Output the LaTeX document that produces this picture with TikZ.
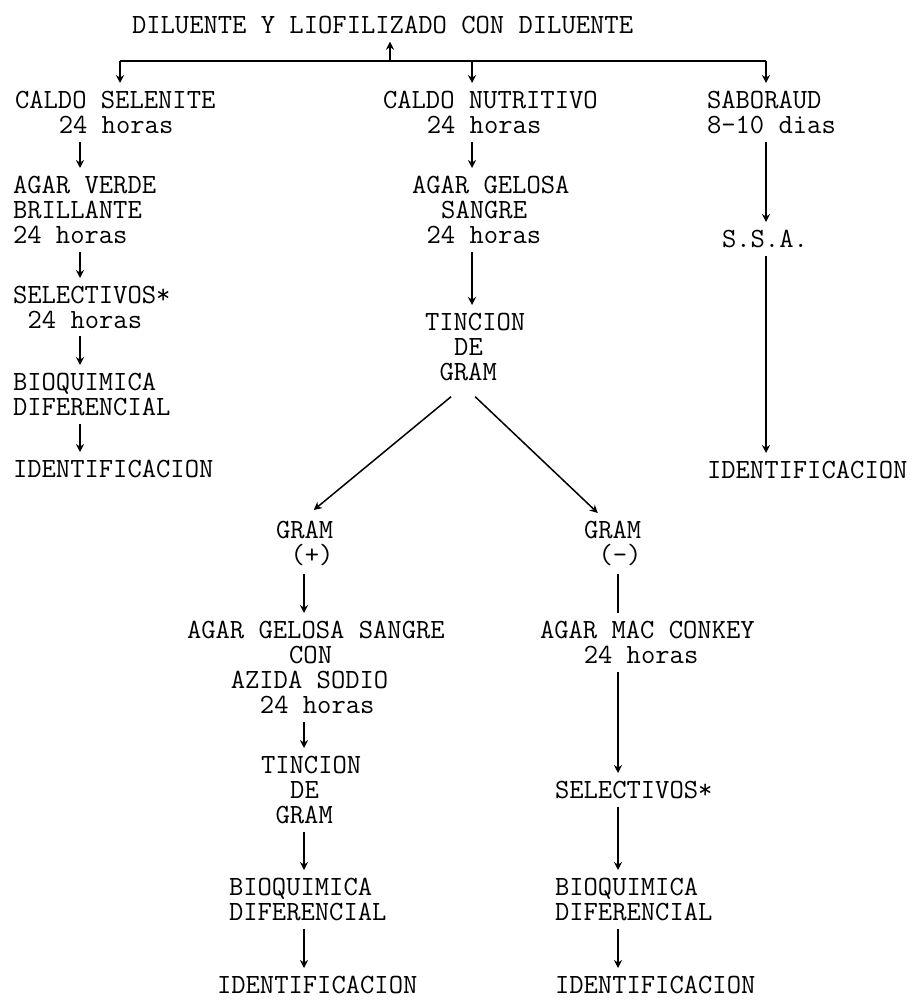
\documentclass[tikz,border=0pt]{standalone}
\usepackage{fontspec}
\usetikzlibrary{arrows.meta}
\newcommand\skipch[1]{\hspace*{#1\dimexpr0.525em\relax}}
\tikzset{
	txt/.style={
		anchor=north west, align=left,
		inner sep=0, outer sep=0,
		font=\ttfamily\fontsize{13.9}{12.5}\selectfont
	},
	arr/.style={-{Stealth[length=4pt,width=4pt]}, line width=0.75pt,
		shorten <=4pt, shorten >=4pt},
	lin/.style={line width=0.75pt, shorten <=4pt, shorten >=4pt},
	diag/.style={-{Stealth[length=4pt,width=4pt]}, line width=0.75pt}
}

\begin{document}
\begin{tikzpicture}[x=0.5pt,y=-0.5pt]
\useasboundingbox (0,0) rectangle (916,1005);
% columns of the connectors
\foreach \n/\x in {ca/80,cb/120,cc/472,cd/766,ce/304,cf/618,cm/390}
	\coordinate (\n) at (\x,0);

% top
\node[txt] (diluente) at (132,16) {DILUENTE Y LIOFILIZADO CON DILUENTE};
\coordinate (bl) at (120,61);
\coordinate (br) at (766,61);

% left column
\node[txt] (selenite) at (15,91) {CALDO SELENITE\\\skipch{3}24 horas};
\node[txt] (verde) at (13,176) {AGAR VERDE\\BRILLANTE\\24 horas};
\node[txt] (sel1) at (13,286) {SELECTIVOS*\\\skipch{1}24 horas};
\node[txt] (bioq1) at (13,373) {BIOQUIMICA\\DIFERENCIAL};
\node[txt] (ident1) at (13,460) {IDENTIFICACION};

% middle column
\node[txt] (nutri) at (383,91) {CALDO NUTRITIVO\\\skipch{3}24 horas};
\node[txt] (gelosa) at (412,176) {AGAR GELOSA\\\skipch{2}SANGRE\\\skipch{1}24 horas};
\node[txt] (tinc1) at (425,313) {TINCION\\\skipch{2}DE\\\skipch{1}GRAM};

% right column
\node[txt] (sabo) at (707,91) {SABORAUD\\8-10 dias};
\node[txt] (ssa) at (722,230) {S.S.A.};
\node[txt] (ident3) at (707,461) {IDENTIFICACION};

% gram (+)
\node[txt] (grampos) at (276,521) {GRAM\\\skipch{1}(+)};
\node[txt] (azida) at (187,621) {AGAR GELOSA SANGRE\\\skipch{7}CON\\\skipch{3}AZIDA SODIO\\\skipch{5}24 horas};
\node[txt] (tinc2) at (261,756) {TINCION\\\skipch{2}DE\\\skipch{1}GRAM};
\node[txt] (bioq2) at (229,878) {BIOQUIMICA\\DIFERENCIAL};
\node[txt] (ident2) at (217,976) {IDENTIFICACION};

% gram (-)
\node[txt] (gramneg) at (584,521) {GRAM\\\skipch{1}(-)};
\node[txt] (mac) at (540,621) {AGAR MAC CONKEY\\\skipch{3}24 horas};
\node[txt] (sel2) at (555,781) {SELECTIVOS*};
\node[txt] (bioq3) at (555,878) {BIOQUIMICA\\DIFERENCIAL};
\node[txt] (ident4) at (555,976) {IDENTIFICACION};

% connectors
\draw[line width=1pt] (bl) -- (br);
\draw[arr, shorten <=0pt] (bl -| cm) -- (diluente.south -| cm);
\draw[arr, shorten <=0pt] (bl) -- (selenite.north -| cb);
\draw[arr, shorten <=0pt] (bl -| cc) -- (nutri.north -| cc);
\draw[arr, shorten <=0pt] (br) -- (sabo.north -| cd);

\foreach \c/\a/\b in {ca/selenite/verde, ca/verde/sel1, ca/sel1/bioq1, ca/bioq1/ident1,
	cc/nutri/gelosa, cc/gelosa/tinc1, cd/sabo/ssa, cd/ssa/ident3,
	ce/grampos/azida, ce/azida/tinc2, ce/tinc2/bioq2, ce/bioq2/ident2,
	cf/mac/sel2, cf/sel2/bioq3, cf/bioq3/ident4}
	\draw[arr] (\a.south -| \c) -- (\b.north -| \c);
\draw[lin] (gramneg.south -| cf) -- (mac.north -| cf);

\draw[diag] ([xshift=-12pt,yshift=-8pt]tinc1.south) -- ([xshift=4.5pt,yshift=5.5pt]grampos.north);
\draw[diag] ([yshift=-8pt]tinc1.south) -- ([xshift=-7.5pt,yshift=4pt]gramneg.north);
\end{tikzpicture}
\end{document}
